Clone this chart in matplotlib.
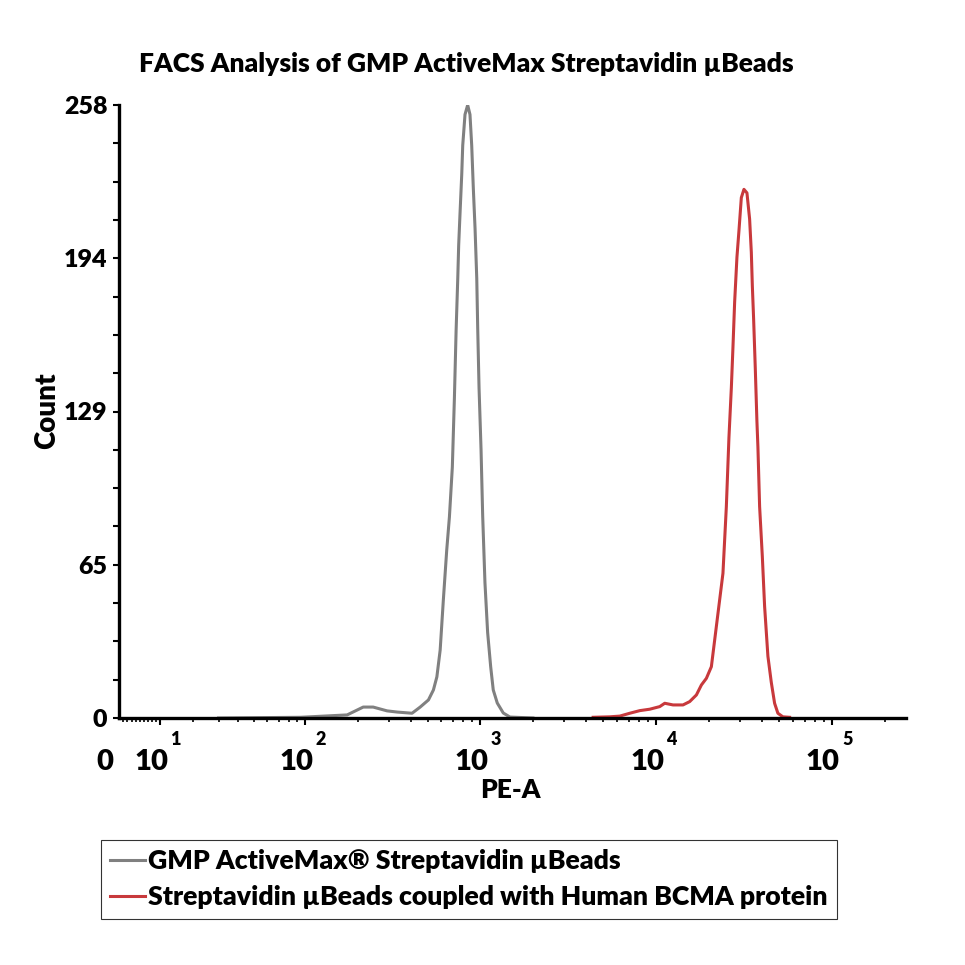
import matplotlib.pyplot as plt
import numpy as np
from matplotlib.ticker import FixedLocator, NullFormatter

plt.rcParams['font.family'] = ['Lato', 'DejaVu Sans']
plt.rcParams['font.weight'] = 'heavy'

###############################################################################
# data (PE-A intensity, event count)

gray_pe = [30, 94, 174, 215, 245, 294, 336, 408, 454, 506, 540, 565, 590,
           615, 643, 666, 692, 711, 727, 743, 752, 765, 783, 793, 817, 846,
           872, 892, 911, 932, 953, 965, 982, 1008, 1030, 1061, 1099, 1144,
           1183, 1247, 1349, 1473, 1989]
gray_count = [0, 0.3, 1.3, 4.6, 4.6, 3.0, 2.5, 2.0, 4.6, 7.6, 11.8, 17.3,
              28.6, 49.6, 70.7, 84.6, 105.6, 134.7, 163, 185, 199, 212, 229,
              241, 254, 258, 254, 241, 223, 206, 185, 164, 139, 113, 85, 57,
              36, 21.5, 11.8, 6.3, 2.1, 0.4, 0]

red_pe = [4378, 5448, 6209, 7076, 8066, 9193, 10477, 11187, 12468, 14210,
          15510, 16934, 18083, 19303, 20606, 21516, 22466, 23982, 25070,
          25940, 26770, 27340, 27950, 28810, 29570, 30510, 31570, 32840,
          34010, 34780, 35240, 35840, 36640, 37420, 37920, 38770, 40170,
          41390, 43220, 45180, 47180, 49260, 52580, 57420]
red_count = [0.3, 0.5, 0.8, 2.0, 3.1, 3.7, 4.8, 6.2, 5.5, 5.5, 6.9, 9.7,
             13.9, 16.7, 21.6, 32.8, 44, 60.9, 88.9, 118, 139, 156, 175, 194,
             205, 219, 222.5, 221, 210, 196, 182, 168, 147, 125, 114, 89, 68,
             47, 26, 15, 6.2, 2.0, 0.5, 0.3]

labels = ['GMP ActiveMax\u00ae Streptavidin \u00b5Beads',
          'Streptavidin \u00b5Beads coupled with Human BCMA protein']
colors = ['#808080', '#c8393c']

y_ticks = [0, 64.5, 129, 193.5, 258]
y_ticklabels = ['0', '65', '129', '194', '258']
decades = [1, 2, 3, 4, 5]
x_max = 262144

###############################################################################
# arcsinh display scale (FlowJo-like biexponential axis)

W = 17.45


def fwd(x):
    return np.arcsinh(np.asarray(x, dtype=float) / W) / np.log(10)


def inv(y):
    return W * np.sinh(np.asarray(y, dtype=float) * np.log(10))


fig = plt.figure(figsize=(9.65, 9.65), dpi=100)
ax = fig.add_axes([118.5/965, 247/965, 787/965, 613/965])
ax.set_xscale('function', functions=(fwd, inv))

ax.plot(gray_pe, gray_count, color=colors[0], lw=2.2, label=labels[0])
ax.plot(red_pe, red_count, color=colors[1], lw=2.2, label=labels[1])

ax.set_xlim(0, x_max)
ax.set_ylim(0, 258)

for s in ['top', 'right']:
    ax.spines[s].set_visible(False)
for s in ['left', 'bottom']:
    ax.spines[s].set_linewidth(2.4)

# y axis ticks
ax.yaxis.set_major_locator(FixedLocator(y_ticks))
ax.set_yticklabels(y_ticklabels, fontsize=18)
ax.yaxis.set_minor_locator(FixedLocator(np.linspace(0, 258, 17)))
ax.tick_params(axis='y', which='both', length=4, width=1.5, pad=4)

# x axis ticks, labels drawn by hand
minors = [m * 10**d for d in range(0, 6) for m in range(1, 10)
          if m * 10**d < x_max]
ax.xaxis.set_major_locator(FixedLocator([10**d for d in decades]))
ax.xaxis.set_minor_locator(FixedLocator(minors))
ax.xaxis.set_major_formatter(NullFormatter())
ax.xaxis.set_minor_formatter(NullFormatter())
ax.tick_params(axis='x', which='major', length=5, width=1.5)
ax.tick_params(axis='x', which='minor', length=3, width=1.2)

for d in decades:
    ax.annotate('10', xy=(10**d, 0), xycoords=('data', 'axes fraction'),
                xytext=(8, -52), textcoords='offset pixels',
                ha='right', va='baseline', fontsize=21)
    ax.annotate(str(d), xy=(10**d, 0), xycoords=('data', 'axes fraction'),
                xytext=(10, -27), textcoords='offset pixels',
                ha='left', va='baseline', fontsize=13)
ax.annotate('0', xy=(0, 0), xycoords=('data', 'axes fraction'),
            xytext=(-14, -52), textcoords='offset pixels',
            ha='center', va='baseline', fontsize=21)

# titles
fig.text(466/965, 1 - 72/965,
         'FACS Analysis of GMP ActiveMax Streptavidin \u00b5Beads',
         ha='center', va='baseline', fontsize=19)
fig.text(47/965, 1 - 411/965, 'Count', rotation=90, ha='center',
         va='center', fontsize=20)
fig.text(510/965, 1 - 790/965, 'PE-A', ha='center', va='center',
         fontsize=19)

leg = fig.legend(loc='upper left', bbox_to_anchor=(101/965, 1 - 840/965),
                 frameon=True, fancybox=False, borderaxespad=0,
                 handlelength=1.3, handletextpad=0.1, borderpad=0.35,
                 labelspacing=0.45, prop={'weight': 'heavy', 'size': 19.2})
leg.get_frame().set_edgecolor('black')
leg.get_frame().set_linewidth(0.8)

plt.savefig('out.png', dpi=100)
